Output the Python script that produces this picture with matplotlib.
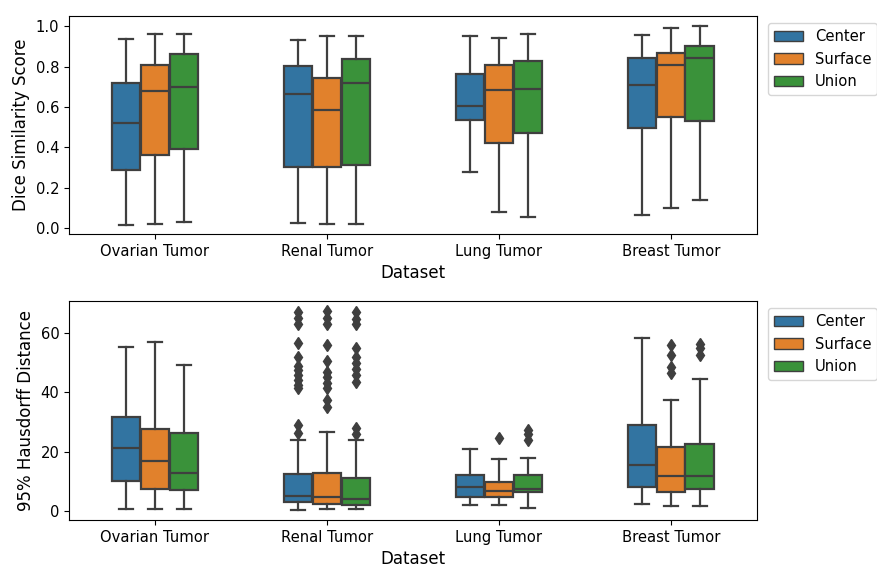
import matplotlib
matplotlib.use("Agg")
import matplotlib.pyplot as plt
from matplotlib.patches import Patch
import numpy as np

# Categories
datasets = ["Ovarian Tumor", "Renal Tumor", "Lung Tumor", "Breast Tumor"]
methods = ["Center", "Surface", "Union"]

# Dice similarity score box stats, one row per dataset: [Center, Surface, Union]
dice_whislo = [[0.015, 0.02, 0.03], [0.025, 0.02, 0.02], [0.28, 0.08, 0.055], [0.065, 0.10, 0.14]]
dice_q1 = [[0.29, 0.36, 0.39], [0.305, 0.305, 0.315], [0.535, 0.42, 0.47], [0.495, 0.55, 0.53]]
dice_med = [[0.52, 0.68, 0.70], [0.665, 0.585, 0.72], [0.605, 0.685, 0.69], [0.71, 0.81, 0.84]]
dice_q3 = [[0.72, 0.81, 0.86], [0.805, 0.745, 0.835], [0.765, 0.81, 0.83], [0.84, 0.865, 0.90]]
dice_whishi = [[0.935, 0.96, 0.96], [0.93, 0.95, 0.95], [0.95, 0.94, 0.96], [0.955, 0.99, 1.0]]
dice_fliers = [[[], [], []], [[], [], []], [[], [], []], [[], [], []]]

# 95% Hausdorff distance box stats
hd_whislo = [[0.9, 0.7, 0.7], [0.6, 0.8, 0.8], [2.1, 2.0, 1.1], [2.6, 1.7, 1.9]]
hd_q1 = [[10.3, 7.6, 7.3], [3.0, 2.6, 2.3], [5.0, 4.8, 6.4], [8.1, 6.4, 7.6]]
hd_med = [[21.2, 16.8, 13.0], [5.1, 4.8, 4.2], [8.3, 7.0, 7.6], [15.7, 11.8, 12.0]]
hd_q3 = [[31.8, 27.8, 26.4], [12.6, 12.8, 11.2], [12.3, 10.0, 12.1], [29.2, 21.8, 22.6]]
hd_whishi = [[55.3, 56.8, 49.3], [24.0, 26.8, 24.0], [20.9, 17.6, 18.1], [58.4, 37.6, 44.4]]
hd_fliers = [
    [[], [], []],
    [[67, 65, 63, 56.5, 52, 49, 47.5, 46, 44, 42.5, 41.5, 29, 26.5],
     [67.5, 65, 63, 56, 50.5, 47, 45, 43, 41.5, 37.5, 35],
     [67, 64.5, 63, 55, 52, 50, 48, 46, 43.5, 28, 26]],
    [[], [24.8], [27.5, 26, 24]],
    [[], [56, 52.5, 48.5, 46.5], [56.4, 54.8, 52.6]],
]

colors = ["#3274a1", "#e1812c", "#3a923a"]
gray = "#3f3f3f"
lw = 1.6


def draw_panel(ax, whislo, q1, med, q3, whishi, fliers, ylabel):
    n_hue = len(methods)
    group = 0.5
    each = group / n_hue
    for j, name in enumerate(methods):
        stats = []
        for i in range(len(datasets)):
            stats.append({
                "whislo": whislo[i][j], "q1": q1[i][j], "med": med[i][j],
                "q3": q3[i][j], "whishi": whishi[i][j],
                "fliers": np.array(fliers[i][j]),
            })
        pos = np.arange(len(datasets)) - group / 2 + each * (j + 0.5)
        ax.bxp(stats, positions=pos, widths=each * 0.98, patch_artist=True,
               showfliers=True, manage_ticks=False,
               boxprops=dict(facecolor=colors[j], edgecolor=gray, linewidth=lw),
               medianprops=dict(color=gray, linewidth=lw),
               whiskerprops=dict(color=gray, linewidth=lw),
               capprops=dict(color=gray, linewidth=lw),
               flierprops=dict(marker="d", markersize=6.5, markerfacecolor=gray,
                               markeredgecolor=gray, linestyle="none"))
    ax.set_xticks(np.arange(len(datasets)))
    ax.set_xticklabels(datasets)
    ax.tick_params(labelsize=10.6)
    ax.set_xlim(-0.5, len(datasets) - 0.5)
    ax.set_xlabel("Dataset", fontsize=12)
    ax.set_ylabel(ylabel, fontsize=12)
    handles = [Patch(facecolor=c, edgecolor=gray, linewidth=1.0, label=m)
               for c, m in zip(colors, methods)]
    ax.legend(handles=handles, loc="upper left", bbox_to_anchor=(1.005, 1),
              fontsize=10.6)


fig = plt.figure(figsize=(8.77, 5.74), dpi=100)
ax1 = fig.add_axes([0.0787, 0.592, 0.7843, 0.380])
ax2 = fig.add_axes([0.0787, 0.094, 0.7843, 0.3816])

draw_panel(ax1, dice_whislo, dice_q1, dice_med, dice_q3, dice_whishi, dice_fliers,
           "Dice Similarity Score")
ax1.set_ylim(-0.03, 1.05)
ax1.set_yticks([0.0, 0.2, 0.4, 0.6, 0.8, 1.0])

draw_panel(ax2, hd_whislo, hd_q1, hd_med, hd_q3, hd_whishi, hd_fliers,
           "95% Hausdorff Distance")
ax2.set_ylim(-2.9, 70.7)
ax2.set_yticks([0, 20, 40, 60])

fig.savefig("out.png", dpi=100)
